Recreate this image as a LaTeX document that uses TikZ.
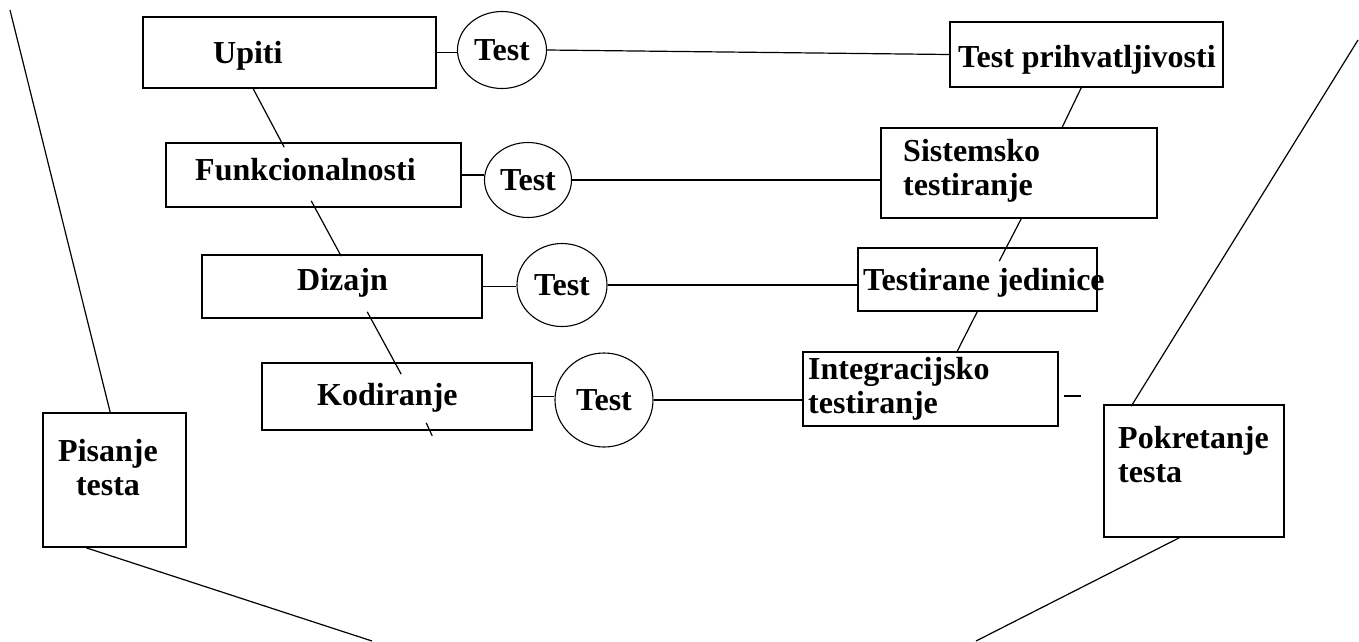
\documentclass[tikz,border=0pt]{standalone}
\usepackage{fontspec}
\setmainfont{Liberation Serif}
\usetikzlibrary{shapes.geometric,calc}

\begin{document}
\begin{tikzpicture}[x=1pt,y=1pt,yscale=-1,xscale=1,
	okvir/.style={draw, rectangle, line width=1.6pt, inner sep=0pt},
	krug/.style={draw, ellipse, line width=1.1pt, inner sep=0pt, font=\fontsize{32}{34}\selectfont\bfseries},
	natpis/.style={inner sep=0pt, align=left, font=\fontsize{32}{34}\selectfont\bfseries},
	veza/.style={line width=1.2pt}]
	\useasboundingbox (0,0) rectangle (1359,641);

	% lijeva grana
	\node[okvir, minimum width=293, minimum height=71] (upiti) at (289.5,52.5) {};
	\node[okvir, minimum width=295, minimum height=64] (funk) at (313.5,175) {};
	\node[okvir, minimum width=280, minimum height=63] (dizajn) at (342,286.5) {};
	\node[okvir, minimum width=270, minimum height=67] (kod) at (397,396.5) {};
	\node[okvir, minimum width=143, minimum height=134] (pisanje) at (114.5,480) {};

	% desna grana
	\node[okvir, minimum width=273, minimum height=65] (prihv) at (1086.5,54.5) {};
	\node[okvir, minimum width=276, minimum height=90] (sistem) at (1019,173) {};
	\node[okvir, minimum width=239, minimum height=63] (jedinice) at (977.5,279.5) {};
	\node[okvir, minimum width=255, minimum height=74] (integ) at (930.5,389) {};
	\node[okvir, minimum width=180, minimum height=132] (pokret) at (1194,471) {};

	% Text Node
	\node[natpis, anchor=base west] (upitiT) at (213,63) {Upiti};
	\node[natpis, anchor=base west] (funkT) at (195,180) {Funkcionalnosti};
	\node[natpis, anchor=base west] (dizajnT) at (297,290) {Dizajn};
	\node[natpis, anchor=base west] (kodT) at (317,405) {Kodiranje};
	\node[natpis, anchor=base, align=center] (pisanjeT) at (108,495) {Pisanje\\testa};
	\node[natpis, anchor=base west] (prihvT) at (958,67) {Test prihvatljivosti};
	\node[natpis, anchor=base west] (sistemT) at (903,195) {Sistemsko\\testiranje};
	\node[natpis, anchor=base west] (jediniceT) at (863,290) {Testirane jedinice};
	\node[natpis, anchor=base west] (integT) at (808,413) {Integracijsko\\testiranje};
	\node[natpis, anchor=base west] (pokretT) at (1118,482) {Pokretanje\\testa};

	% krugovi
	\node[krug, minimum width=89, minimum height=77] (test1) at (502,50) {Test};
	\node[krug, minimum width=87, minimum height=75] (test2) at (528,180) {Test};
	\node[krug, minimum width=90, minimum height=83] (test3) at (562,285) {Test};
	\node[krug, minimum width=98, minimum height=94] (test4) at (604,400) {Test};

	% slobodni krajevi
	\coordinate (lijevoGore) at (10,10);
	\coordinate (dnoL) at (372,641);
	\coordinate (desnoGore) at (1358,40);
	\coordinate (dnoD) at (976,641);

	% vodoravne veze
	\draw[veza] (upiti.east) -- (upiti.east -| test1.west);
	\draw[veza] (test1.east) -- (prihv.west);
	\draw[veza] (funk.east) -- (funk.east -| test2.west);
	\draw[veza] (test2.east) -- (test2.east -| sistem.west);
	\draw[veza] (dizajn.east) -- (dizajn.east -| test3.west);
	\draw[veza] (test3.east) -- (test3.east -| jedinice.west);
	\draw[veza] (kod.east) -- (kod.east -| test4.west);
	\draw[veza] (test4.east) -- (test4.east -| integ.west);

	% kose veze
	\draw[veza] ($(upiti.south west)+(111,0)$) -- ($(funk.north west)+(119,5)$);
	\draw[veza] ($(funk.south west)+(146,-7)$) -- ($(dizajn.north west)+(140,2)$);
	\draw[veza] ($(dizajn.south west)+(166,-7)$) -- ($(kod.north west)+(140,12)$);
	\draw[veza] ($(kod.south west)+(165,-8)$) -- ++(6,13);
	\draw[veza] ($(prihv.south west)+(132,0)$) -- ($(sistem.north west)+(182,0)$);
	\draw[veza] ($(sistem.south west)+(141,0)$) -- ($(jedinice.north west)+(142,14)$);
	\draw[veza] ($(jedinice.south west)+(120,0)$) -- ($(integ.north west)+(155,0)$);
	\draw[veza] ($(integ.east)+(5,7)$) -- ++(17,0);

	% V oblik
	\draw[veza] ($(pisanje.north west)+(68,0)$) -- (lijevoGore);
	\draw[veza] ($(pisanje.south west)+(44,0)$) -- (dnoL);
	\draw[veza] ($(pokret.north west)+(28,2)$) -- (desnoGore);
	\draw[veza] ($(pokret.south west)+(76,0)$) -- (dnoD);
\end{tikzpicture}
\end{document}
